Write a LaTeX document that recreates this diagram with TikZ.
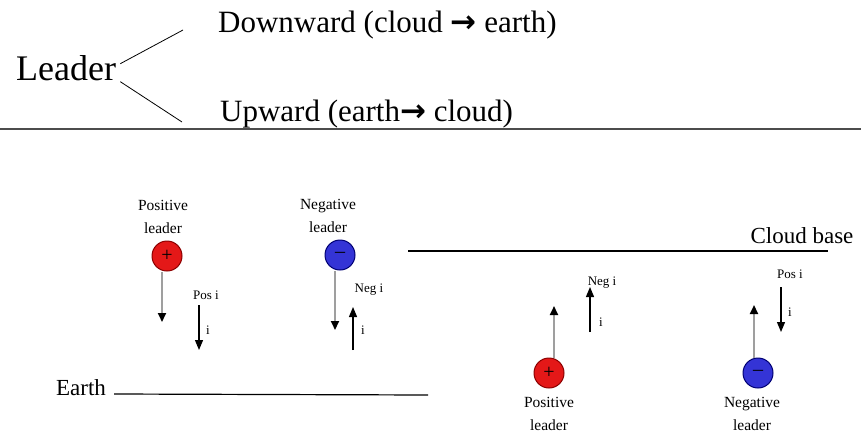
\documentclass[tikz,border=0pt]{standalone}
\usepackage{fontspec}
\setmainfont{Liberation Serif}
\newfontfamily\arrowfont{DejaVu Sans}
\usetikzlibrary{arrows.meta,positioning}
\definecolor{posred}{RGB}{228,24,24}
\definecolor{negblue}{RGB}{52,52,214}

\begin{document}
\begin{tikzpicture}[x=1pt, y=-1pt,
    every node/.style={inner sep=0pt},
    big/.style={font=\fontsize{31}{34}\selectfont, anchor=base west},
    ground/.style={font=\fontsize{23}{26}\selectfont},
    lab/.style={align=center, font=\fontsize{15.5}{23}\selectfont},
    cur/.style={font=\fontsize{13}{15}\selectfont},
    charge/.style={circle, minimum size=30pt, line width=1pt, font=\fontsize{20}{20}\selectfont},
    poscharge/.style={charge, draw=red!55!black, fill=posred},
    negcharge/.style={charge, draw=blue!45!black, fill=negblue},
    leader/.style={draw=gray!75, line width=2pt, -{Triangle[width=8pt,length=9pt,color=black]}},
    flow/.style={draw=black, line width=1.2pt, -{Triangle[width=8pt,length=10pt]}}]
  \useasboundingbox (0,0) rectangle (861,434);

  % leader types
  \node[font=\fontsize{36}{40}\selectfont, anchor=base west] (ld) at (16,80) {Leader};
  \node[big] (down) at (218,32) {Downward (cloud {\arrowfont\bfseries →} earth)};
  \node[big] (up) at (220,121) {Upward (earth{\arrowfont\bfseries →} cloud)};
  \draw[line width=0.8pt] ([xshift=4pt,yshift=4pt]ld.east) -- (183,30) coordinate (fk1);
  \draw[line width=0.8pt] ([xshift=4pt,yshift=-14pt]ld.east) -- (182,122) coordinate (fk2);
  \draw[gray!60!black, line width=2.5pt] (0,129) -- (861,129);

  % ground and cloud
  \node[ground] (earth) at (81,388) {Earth};
  \draw[line width=1.2pt] ([xshift=8pt,yshift=-6pt]earth.east) -- (428,395) coordinate (eend);
  \node[ground] (cloud) at (802,236) {Cloud base};
  \draw[line width=1.2pt] (408,251) coordinate (cstart) -- (828,251);

  % downward leaders
  \node[poscharge] (pa) at (167,256) {+};
  \node[lab, above=7pt of pa, xshift=-4pt] (pal) {Positive\\leader};
  \coordinate (pat) at (162,322);
  \draw[leader] (pa.south -| pat) -- (pat);
  \node[cur] (pai) at (206,295) {Pos i};
  \coordinate (pa1) at (199,305);
  \coordinate (pa2) at (199,350);
  \draw[flow] (pa1) -- (pa2);
  \node[cur] at (208,330) {i};

  \node[negcharge] (na) at (340,255) {--};
  \node[lab, above=7pt of na, xshift=-12pt] (nal) {Negative\\leader};
  \coordinate (nat) at (335,330);
  \draw[leader] (na.south -| nat) -- (nat);
  \node[cur] (nai) at (369,290) {Neg i};
  \coordinate (na1) at (353,350);
  \coordinate (na2) at (353,307);
  \draw[flow] (na1) -- (na2);
  \node[cur] at (363,330) {i};

  % upward leaders
  \node[poscharge] (pb) at (549,373) {+};
  \node[lab, below=9pt of pb] (pbl) {Positive\\leader};
  \coordinate (pbt) at (554,306);
  \draw[leader] (pb.north -| pbt) -- (pbt);
  \node[cur] (pbi) at (602,283) {Neg i};
  \coordinate (pb1) at (590,332);
  \coordinate (pb2) at (590,287);
  \draw[flow] (pb1) -- (pb2);
  \node[cur] at (601,322) {i};

  \node[negcharge] (nb) at (758,373) {--};
  \node[lab, below=9pt of nb, xshift=-6pt] (nbl) {Negative\\leader};
  \coordinate (nbt) at (754,305);
  \draw[leader] (nb.north -| nbt) -- (nbt);
  \node[cur] (nbi) at (790,274) {Pos i};
  \coordinate (nb1) at (781,287);
  \coordinate (nb2) at (781,332);
  \draw[flow] (nb1) -- (nb2);
  \node[cur] at (790,312) {i};
\end{tikzpicture}
\end{document}
